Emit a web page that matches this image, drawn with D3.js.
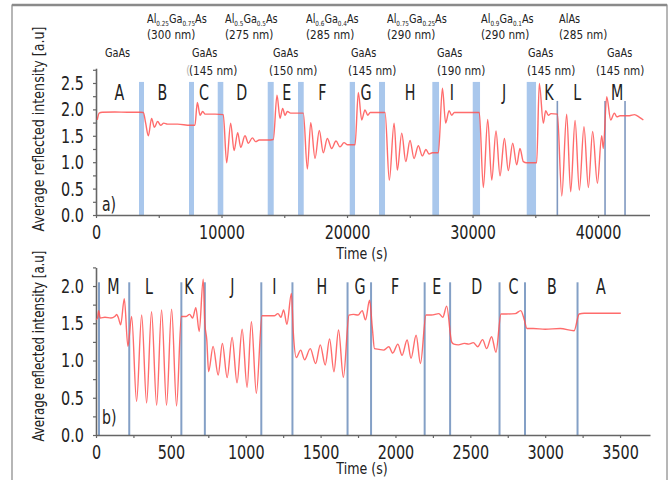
<!DOCTYPE html>
<html><head><meta charset="utf-8">
<script src="https://cdn.jsdelivr.net/npm/d3@7"></script>
<style>
html,body{margin:0;padding:0;background:#fff;}
svg{display:block;}
text{font-family:'Liberation Sans Narrow','Arial Narrow','DejaVu Sans Condensed',sans-serif;fill:#222;}
</style></head>
<body>
<script>
// ---------- DATA ----------
// Panel a: time (s), intensity (a.u.)
const seriesA = [
[100,1.80],[250,1.93],[500,1.945],[1500,1.95],[2500,1.945],[3500,1.945],[3770,1.94],
[3950,1.75],[4170,1.50],[4430,1.83],[4650,1.66],[4910,1.77],[5150,1.70],[5400,1.74],[5700,1.72],[6500,1.72],[7500,1.70],[7880,1.70],
[8075,2.13],[8290,1.89],[8500,1.96],[8700,1.91],[9500,1.91],[10140,1.90],
[10410,0.99],[10730,1.74],[11000,1.22],[11290,1.56],[11530,1.28],[11870,1.50],[12140,1.36],[12460,1.46],[12720,1.39],[13000,1.42],[13700,1.42],[14130,1.43],
[14420,2.27],[14660,1.83],[14870,2.02],[15060,1.89],[15250,1.96],[15500,1.93],[16520,1.93],
[16840,0.87],[17110,1.75],[17450,1.07],[17790,1.60],[18110,1.18],[18430,1.45],[18780,1.26],[19120,1.40],[19440,1.29],[19760,1.37],[20050,1.33],[20640,1.33],
[20900,2.32],[21170,1.80],[21430,1.99],[21650,1.89],[21850,1.94],[23030,1.94],
[23370,0.66],[23750,1.74],[24010,0.85],[24360,1.55],[24680,1.01],[25020,1.41],[25340,1.07],[25680,1.31],[26000,1.12],[26290,1.24],[26530,1.155],[26800,1.18],[27280,1.18],
[27600,2.40],[27860,1.74],[28130,1.975],[28340,1.89],[28550,1.94],[30540,1.94],
[30860,0.52],[31210,1.81],[31530,0.66],[31870,1.59],[32190,0.74],[32540,1.45],[32850,0.84],[33200,1.36],[33520,0.95],[33780,1.26],[34050,1.01],[34300,0.99],[35110,0.99],
[35320,2.49],[35640,1.74],[35830,1.975],[36040,1.89],[36250,1.92],[36760,1.91],
[37110,0.36],[37500,1.91],[37820,0.44],[38170,1.79],[38510,0.47],[38880,1.67],[39230,0.52],[39570,1.58],[39950,0.60],[40290,1.50],[40420,1.26],
[40690,2.24],[41010,1.80],[41300,1.93],[41500,1.86],[41750,1.88],[42500,1.88],[42900,1.90],[43300,1.85],[43610,1.80]
];
// Panel b
const seriesB = [
[0,1.55],[10,1.57],[18,1.67],[28,1.57],[60,1.58],[100,1.57],[125,1.59],[138,1.62],[150,1.57],[165,1.48],[189,1.83],[213,1.19],
[238,1.59],[271,0.45],[305,1.61],[338,0.43],[371,1.655],[405,0.40],[438,1.68],[471,0.40],[505,1.69],[538,0.39],[570,1.59],
[600,1.59],[625,1.62],[645,1.57],[667,1.71],[689,1.39],[716,2.09],[727,1.50],
[740,1.275],[752,0.85],[782,1.19],[816,0.805],[844,1.23],[876,0.77],[909,1.31],[942,0.70],[976,1.42],[1009,0.64],[1038,1.52],[1071,0.56],[1109,1.60],
[1150,1.60],[1190,1.60],[1215,1.63],[1235,1.58],[1253,1.68],[1275,1.485],[1305,1.90],[1318,1.37],
[1338,1.04],[1367,1.14],[1393,1.01],[1431,1.16],[1467,0.96],[1498,1.21],[1531,0.94],[1560,1.29],[1589,0.85],[1620,1.41],[1652,0.775],[1690,1.61],
[1720,1.62],[1750,1.61],[1778,1.67],[1800,1.545],[1827,1.81],[1845,1.45],[1860,1.16],
[1890,1.15],[1920,1.14],[1956,1.185],[1982,1.10],[2016,1.22],[2044,1.07],[2078,1.275],[2104,1.03],[2138,1.34],[2167,0.96],[2204,1.61],
[2240,1.61],[2290,1.63],[2316,1.58],[2342,1.73],[2375,1.25],[2390,1.22],
[2420,1.21],[2460,1.23],[2490,1.22],[2520,1.24],[2549,1.185],[2582,1.28],[2609,1.16],[2642,1.32],[2671,1.11],[2705,1.625],
[2740,1.625],[2800,1.63],[2837,1.67],[2860,1.55],[2878,1.43],
[2920,1.43],[3000,1.42],[3100,1.43],[3193,1.40],[3227,1.625],
[3260,1.635],[3400,1.635],[3505,1.635]
];
// shutter bands panel a [start,end] (s)
const bandsA = [[3426,3825],[7410,7809],[9697,10143],[13681,14159],[16096,16550],[20215,20637],[22550,23028],[26797,27331],[30016,30598],[34319,35060]];
const linesA = [36757,40558,42151];
const linesB = [20,222,570,727,1104,1312,1680,1837,2195,2365,2695,2865,3216];
// layer letters
const lettersA = ["A","B","C","D","E","F","G","H","I","J","K","L","M"];
const letterTA = [1858,5283,8606,11610,15195,18032,21514,25020,28343,32510,36095,38335,41530];
const lettersB = ["M","L","K","J","I","H","G","F","E","D","C","B","A"];
const letterTB = [116,354,621,910,1191,1508,1763,1997,2276,2543,2788,3044,3372];
// layer annotations
const alloys = [["Al","0.25","Ga","0.75","As"],["Al","0.5","Ga","0.5","As"],["Al","0.6","Ga","0.4","As"],["Al","0.75","Ga","0.25","As"],["Al","0.9","Ga","0.1","As"],["AlAs"]];
const alloyThick = ["(300 nm)","(275 nm)","(285 nm)","(290 nm)","(290 nm)","(285 nm)"];
const alloyT = [4064,10279,16733,23187,30677,36892];
const gaasT = [717,7649,14104,20319,27171,34422,40717];
const gaasThick = ["(145 nm)","(150 nm)","(145 nm)","(190 nm)","(145 nm)","(145 nm)"];
const gaasThickT = [7410,13785,20080,27171,34343,39841];
const yTitle = "Average reflected intensity [a.u]";
const xTitle = "Time (s)";

// ---------- DRAW ----------
const FONT = "'Liberation Sans Narrow','Arial Narrow','DejaVu Sans Condensed',sans-serif";
const svg = d3.select("body").append("svg").attr("width",672).attr("height",480);
const condense = (sel,f) => sel.each(function(){const L=this.getComputedTextLength(); if(L>0){this.setAttribute("textLength",L*f);this.setAttribute("lengthAdjust","spacingAndGlyphs");}});

// frame
svg.append("rect").attr("x",12).attr("y",5).attr("width",655).attr("height",495).attr("fill","none").attr("stroke","#6f6f6f").attr("stroke-width",1);
svg.append("line").attr("x1",12).attr("x2",667).attr("y1",5).attr("y2",5).attr("stroke","#8a8a8a").attr("stroke-width",2.5);

const xa = d3.scaleLinear().domain([0,44100]).range([96,649.5]);
const ya = d3.scaleLinear().domain([0,2.78]).range([215,68.2]);
const xb = d3.scaleLinear().domain([0,3700]).range([96,650]);
const yb = d3.scaleLinear().domain([0,2.25]).range([435,267.4]);

const axisCol = "#666";
function styleAxis(g){
  g.select(".domain").attr("stroke",axisCol).attr("stroke-width",1.6);
  g.selectAll(".tick line").attr("stroke",axisCol).attr("stroke-width",1.2);
  g.selectAll(".tick text").attr("font-size",20).attr("fill","#222").style("font-family",FONT);
  condense(g.selectAll(".tick text"),0.8);
}

function panel(x,y,yTickMax,xStep,lab,labY,titleCx,titleY,yTitleCy,yTitleF){
  const gx = svg.append("g").attr("transform",`translate(0,${y(0)})`)
    .call(d3.axisBottom(x).tickValues(d3.range(0,x.domain()[1]+1,xStep)).tickSize(3).tickSizeOuter(0).tickPadding(7)
      .tickFormat(d=> (Math.round(d/xStep)%2===0)? d3.format("d")(d):""));
  styleAxis(gx);
  const gy = svg.append("g").attr("transform",`translate(${x(0)},0)`)
    .call(d3.axisLeft(y).tickValues(d3.range(0,yTickMax+0.001,0.25)).tickSize(3).tickSizeOuter(0).tickPadding(9)
      .tickFormat(d=> (Math.round(d*4)%2===0)? d.toFixed(1):""));
  styleAxis(gy);
  svg.append("text").attr("x",x(0)+6).attr("y",labY).attr("font-size",20).text(lab).call(condense,0.78);
  svg.append("text").attr("x",titleCx).attr("y",titleY).attr("text-anchor","middle").attr("font-size",16.5).text(xTitle).call(condense,0.85);
  svg.append("text").attr("transform",`translate(44,${yTitleCy}) rotate(-90)`).attr("text-anchor","middle").attr("font-size",16).text(yTitle).call(condense,yTitleF);
}

// Panel a bands & lines
svg.append("g").selectAll("rect").data(bandsA).join("rect")
  .attr("x",d=>xa(d[0])).attr("width",d=>xa(d[1])-xa(d[0]))
  .attr("y",ya(2.52)).attr("height",ya(0)-ya(2.52)).attr("fill","#a9c7ec");
svg.append("g").selectAll("line").data(linesA).join("line")
  .attr("x1",d=>xa(d)).attr("x2",d=>xa(d)).attr("y1",ya(0)).attr("y2",ya(2.16))
  .attr("stroke","#7f98c0").attr("stroke-width",1.6);
// Panel b lines
svg.append("g").selectAll("line").data(linesB).join("line")
  .attr("x1",d=>xb(d)).attr("x2",d=>xb(d)).attr("y1",yb(0)).attr("y2",yb(2.05))
  .attr("stroke","#84a0c6").attr("stroke-width",2);

panel(xa,ya,2.75,5000,"a)",211,362,259,129,0.88);
panel(xb,yb,2.25,250,"b)",424,362,474,346,0.82);

// curves
const lineA = d3.line().x(d=>xa(d[0])).y(d=>ya(d[1])).curve(d3.curveMonotoneX);
const lineB = d3.line().x(d=>xb(d[0])).y(d=>yb(d[1])).curve(d3.curveMonotoneX);
svg.append("path").datum(seriesA).attr("d",lineA).attr("fill","none").attr("stroke","#ff5252").attr("stroke-opacity",0.85).attr("stroke-width",1.4);
svg.append("path").datum(seriesB).attr("d",lineB).attr("fill","none").attr("stroke","#ff5252").attr("stroke-opacity",0.85).attr("stroke-width",1.4);

// letters
svg.append("g").selectAll("text").data(lettersA).join("text")
  .attr("x",(d,i)=>xa(letterTA[i])).attr("y",100).attr("text-anchor","middle").attr("font-size",22).text(d=>d).call(condense,0.72);
svg.append("g").selectAll("text").data(lettersB).join("text")
  .attr("x",(d,i)=>xb(letterTB[i])).attr("y",294).attr("text-anchor","middle").attr("font-size",22).text(d=>d).call(condense,0.72);

// annotations
const ann = svg.append("g").attr("font-size",12);
alloys.forEach((parts,i)=>{
  const t = ann.append("text").attr("x",xa(alloyT[i])).attr("y",23);
  parts.forEach((p,j)=>{
    const sub = j%2===1;
    t.append("tspan").attr("font-size",sub?7:12).attr("dy", sub?2.5: (j>0?-2.5:0)).text(p);
  });
  t.call(condense,0.9);
  ann.append("text").attr("x",xa(alloyT[i])).attr("y",39).text(alloyThick[i]).call(condense,0.97);
});
gaasT.forEach((tt,i)=>{
  ann.append("text").attr("x",xa(tt)).attr("y",57).text("GaAs").call(condense,0.9);
});
gaasThickT.forEach((tt,i)=>{
  ann.append("text").attr("x",xa(tt)).attr("y",75).text(gaasThick[i]).call(condense,0.97);
});
ann.append("text").attr("x",xa(gaasThickT[0])-3).attr("y",75).style("fill","#bbb").text("(");
</script>
</body></html>
